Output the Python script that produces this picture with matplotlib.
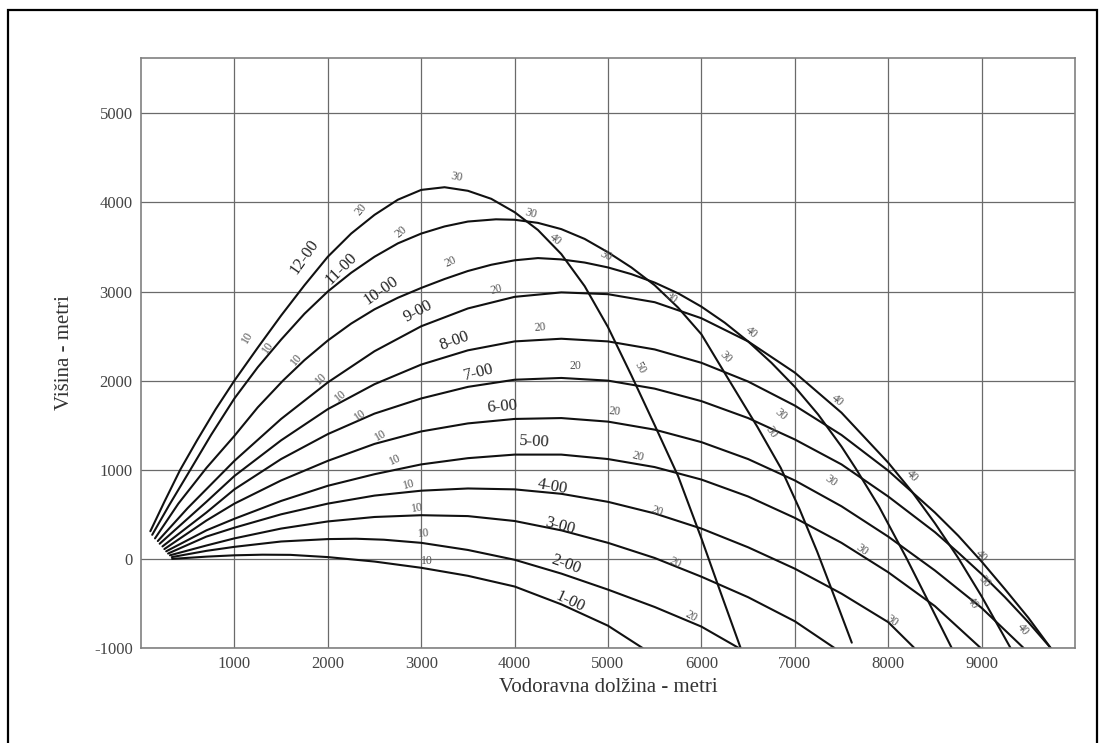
import matplotlib
matplotlib.use("Agg")
import matplotlib.pyplot as plt
from matplotlib.patches import Rectangle

# trajectories: horizontal distance (m) and height (m)
x_100 = [333, 700, 1000, 1300, 1600, 2000, 2500, 3000, 3500, 4000, 4500, 5000, 5370]
y_100 = [0, 25, 40, 47, 45, 20, -30, -100, -190, -310, -510, -750, -1000]

x_200 = [330, 700, 1000, 1500, 2000, 2300, 2600, 3000, 3500, 4000, 4500, 5000, 5500, 6000, 6400]
y_200 = [20, 90, 135, 195, 222, 226, 215, 180, 100, -10, -165, -345, -540, -760, -1000]

x_300 = [310, 700, 1000, 1500, 2000, 2500, 3000, 3500, 4000, 4500, 5000, 5500, 6000, 6500, 7000, 7425]
y_300 = [40, 150, 230, 340, 420, 470, 490, 480, 425, 320, 180, 10, -200, -430, -700, -1000]

x_400 = [290, 700, 1000, 1500, 2000, 2500, 3000, 3500, 4000, 4500, 5000, 5500, 6000, 6500, 7000, 7500, 8000, 8280]
y_400 = [60, 250, 350, 500, 620, 710, 765, 790, 780, 730, 640, 510, 340, 130, -110, -390, -710, -1000]

x_500 = [270, 700, 1000, 1500, 2000, 2500, 3000, 3500, 4000, 4500, 5000, 5500, 6000, 6500, 7000, 7500, 8000, 8500, 8990]
y_500 = [85, 320, 450, 650, 820, 950, 1060, 1130, 1170, 1170, 1120, 1030, 890, 700, 460, 180, -150, -530, -1000]

x_600 = [250, 700, 1000, 1500, 2000, 2500, 3000, 3500, 4000, 4500, 5000, 5500, 6000, 6500, 7000, 7500, 8000, 8500, 9000, 9450]
y_600 = [110, 430, 620, 880, 1100, 1290, 1430, 1520, 1570, 1580, 1540, 1450, 1310, 1120, 880, 590, 250, -130, -550, -1000]

x_700 = [230, 700, 1000, 1500, 2000, 2500, 3000, 3500, 4000, 4500, 5000, 5500, 6000, 6500, 7000, 7500, 8000, 8500, 8750, 9000, 9250, 9500, 9740]
y_700 = [140, 520, 780, 1120, 1400, 1630, 1800, 1930, 2010, 2030, 2000, 1910, 1770, 1580, 1340, 1060, 700, 300, 70, -170, -430, -710, -1000]

x_800 = [200, 700, 1000, 1500, 2000, 2500, 3000, 3500, 4000, 4500, 5000, 5500, 6000, 6500, 7000, 7500, 8000, 8500, 8750, 9000, 9250, 9500, 9740]
y_800 = [170, 640, 930, 1330, 1680, 1960, 2180, 2340, 2440, 2470, 2440, 2350, 2200, 1990, 1720, 1390, 990, 520, 260, -30, -340, -660, -1000]

x_900 = [180, 500, 1000, 1500, 2000, 2500, 3000, 3500, 4000, 4500, 5000, 5500, 6000, 6500, 7000, 7500, 8000, 8250, 8500, 8750, 9000, 9310]
y_900 = [200, 570, 1100, 1570, 1980, 2330, 2610, 2810, 2940, 2990, 2970, 2880, 2700, 2440, 2090, 1640, 1080, 760, 400, 10, -420, -1000]

x_1000 = [150, 400, 700, 1000, 1250, 1520, 1750, 2000, 2250, 2500, 2750, 3000, 3250, 3500, 3750, 4000, 4250,
          4500, 4750, 5000, 5250, 5500, 5750, 6000, 6250, 6500, 6750, 7000, 7250, 7500, 7655, 7900, 8190, 8450, 8680]
y_1000 = [230, 620, 1020, 1380, 1700, 2000, 2230, 2450, 2640, 2800, 2930, 3040, 3140, 3230, 3300, 3350, 3375,
          3360, 3325, 3270, 3195, 3100, 2980, 2830, 2650, 2440, 2200, 1930, 1620, 1260, 1010, 590, 20, -520, -1000]

x_1100 = [120, 300, 500, 750, 1000, 1250, 1500, 1750, 2000, 2250, 2500, 2750, 3000, 3250, 3500, 3800, 4000, 4250,
          4500, 4750, 5000, 5250, 5500, 5750, 6000, 6270, 6600, 6850, 7050, 7240, 7430, 7610]
y_1100 = [270, 600, 950, 1390, 1800, 2150, 2460, 2750, 3000, 3210, 3390, 3540, 3650, 3730, 3785, 3810, 3805, 3770,
          3700, 3590, 3440, 3270, 3070, 2820, 2520, 2050, 1480, 1020, 560, 80, -440, -940]

x_1200 = [100, 250, 420, 600, 800, 1000, 1250, 1500, 1750, 2000, 2250, 2500, 2750, 3000, 3250, 3500, 3750, 4000,
          4250, 4500, 4750, 5000, 5250, 5500, 5750, 6000, 6200, 6420]
y_1200 = [310, 640, 1000, 1330, 1680, 2000, 2370, 2730, 3070, 3390, 3650, 3860, 4030, 4140, 4170, 4130, 4040, 3890,
          3690, 3420, 3060, 2600, 2060, 1500, 930, 230, -360, -1000]

curves_x = [x_100, x_200, x_300, x_400, x_500, x_600, x_700, x_800, x_900, x_1000, x_1100, x_1200]
curves_y = [y_100, y_200, y_300, y_400, y_500, y_600, y_700, y_800, y_900, y_1000, y_1100, y_1200]

# elevation labels (mils)
el_text = ["1-00", "2-00", "3-00", "4-00", "5-00", "6-00", "7-00", "8-00", "9-00", "10-00", "11-00", "12-00"]
el_x = [4590, 4550, 4480, 4400, 4210, 3870, 3620, 3360, 2970, 2570, 2140, 1745]
el_y = [-480, -60, 365, 810, 1310, 1710, 2090, 2440, 2780, 3010, 3260, 3390]
el_rot = [-25, -20, -15, -10, -3, 5, 14, 20, 28, 35, 45, 55]

# flight time marks (seconds)
tm_text = ["10"] * 12 + ["20"] * 11 + ["30"] * 11 + ["40"] * 7 + ["50"]
tm_x = [1136, 1362, 1664, 1928, 2139, 2342, 2569, 2720, 2870, 2960, 3021, 3059,
        2360, 2790, 3320, 3810, 4275, 4650, 5070, 5320, 5530, 5720, 5890,
        3380, 4170, 4975, 5675, 6265, 6850, 6750, 7390, 7720, 8040, 9030,
        4440, 6535, 7460, 8260, 9000, 9440, 8900,
        5340]
tm_y = [2484, 2376, 2242, 2027, 1830, 1616, 1384, 1113, 833, 573, 286, -26,
        3920, 3670, 3330, 3020, 2600, 2160, 1650, 1150, 530, -40, -645,
        4280, 3870, 3400, 2930, 2260, 1620, 1420, 870, 100, -700, -250,
        3580, 2540, 1780, 930, 30, -790, -500,
        2150]
tm_rot = [60, 55, 50, 45, 40, 35, 30, 25, 15, 10, 5, 0,
          50, 40, 25, 15, 5, 0, -5, -15, -20, -25, -30,
          -10, -15, -25, -35, -45, -40, -55, -35, -35, -35, -50,
          -40, -40, -40, -45, -45, -50, -55,
          -60]

x_ticks = [1000, 2000, 3000, 4000, 5000, 6000, 7000, 8000, 9000]
y_ticks = [-1000, 0, 1000, 2000, 3000, 4000, 5000]

serif = ["Liberation Serif", "DejaVu Serif"]

fig = plt.figure(figsize=(11.07, 7.43), dpi=100)
ax = fig.add_axes([141 / 1107, 1 - 648 / 743, (1075 - 141) / 1107, (648 - 58) / 743])

for cx, cy in zip(curves_x, curves_y):
    ax.plot(cx, cy, color="#111111", linewidth=1.5, solid_joinstyle="round", solid_capstyle="round")

for t, x, y, r in zip(el_text, el_x, el_y, el_rot):
    ax.text(x, y, t, rotation=r, ha="center", va="center", fontsize=12,
            family=serif, color="#222222", rotation_mode="anchor")

for t, x, y, r in zip(tm_text, tm_x, tm_y, tm_rot):
    ax.text(x, y, t, rotation=r, ha="center", va="center", fontsize=8.5,
            family=serif, color="#555555", rotation_mode="anchor")

ax.set_xlim(0, 10000)
ax.set_ylim(-1000, 5620)
ax.set_xticks(x_ticks)
ax.set_yticks(y_ticks)
ax.set_xticklabels([str(v) for v in x_ticks], family=serif, fontsize=12, color="#444444")
ax.set_yticklabels([str(v) for v in y_ticks], family=serif, fontsize=12, color="#444444")
ax.tick_params(length=0, pad=6)
ax.grid(True, color="#6a6a6a", linewidth=0.9)
ax.set_axisbelow(True)
for s in ax.spines.values():
    s.set_color("#808080")
    s.set_linewidth(1.2)

ax.set_xlabel("Vodoravna dolžina - metri", family=serif, fontsize=15, color="#333333", labelpad=4)
ax.set_ylabel("Višina - metri", family=serif, fontsize=15, color="#333333", labelpad=14)

# outer frame of the page
fig.add_artist(Rectangle((8 / 1107, -0.05), (1097 - 8) / 1107, 1.05 - 10 / 743,
                         transform=fig.transFigure, fill=False, edgecolor="black",
                         linewidth=1.6, clip_on=False))

fig.savefig("out.png", dpi=100)
